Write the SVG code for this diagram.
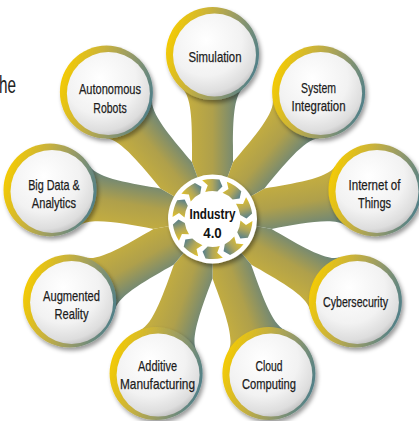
<svg xmlns="http://www.w3.org/2000/svg" width="419" height="421" viewBox="0 0 419 421">
<defs>
<style>
.lbl{font-family:"Liberation Sans Narrow","Liberation Sans",Arial,sans-serif;font-size:15px;fill:#1c1c1c;stroke:#1c1c1c;stroke-width:0.25;text-anchor:middle}
.ctr{font-family:"Liberation Sans Narrow","Liberation Sans",Arial,sans-serif;font-size:15px;font-weight:bold;fill:#111;text-anchor:middle}
.ring{fill:url(#ringG);filter:url(#sh)}
.disc{fill:url(#discG)}
.gap{fill:#fff}
.arr{fill:url(#arrG)}
</style>
<linearGradient id="ringG" x1="0" y1="0.35" x2="1" y2="0.65">
<stop offset="0" stop-color="#f6cc00"/>
<stop offset="0.35" stop-color="#c9b23c"/>
<stop offset="0.65" stop-color="#93996a"/>
<stop offset="1" stop-color="#4d7e8a"/>
</linearGradient>
<radialGradient id="discG" cx="0.4" cy="0.32" r="0.72">
<stop offset="0" stop-color="#ffffff"/>
<stop offset="0.6" stop-color="#f2f2f2"/>
<stop offset="0.88" stop-color="#dddddd"/>
<stop offset="1" stop-color="#bdbdbd"/>
</radialGradient>
<linearGradient id="stemL" gradientUnits="userSpaceOnUse" x1="-32" y1="0" x2="32" y2="0">
<stop offset="0" stop-color="#cbb23c"/>
<stop offset="0.5" stop-color="#afa04b"/>
<stop offset="1" stop-color="#5b7f84"/>
</linearGradient>
<linearGradient id="stemR" gradientUnits="userSpaceOnUse" x1="32" y1="0" x2="-32" y2="0">
<stop offset="0" stop-color="#cbb23c"/>
<stop offset="0.5" stop-color="#afa04b"/>
<stop offset="1" stop-color="#5b7f84"/>
</linearGradient>
<linearGradient id="arrG" gradientUnits="userSpaceOnUse" x1="-10" y1="0" x2="10" y2="0">
<stop offset="0" stop-color="#e2c22a"/>
<stop offset="0.5" stop-color="#b0a65a"/>
<stop offset="1" stop-color="#557f8c"/>
</linearGradient>
<filter id="sh" x="-25%" y="-25%" width="160%" height="160%">
<feDropShadow dx="2" dy="3" stdDeviation="2.2" flood-color="#000" flood-opacity="0.4"/>
</filter>
<path id="wedge" d="M0,0 L-51.3,-141 A150,150 0 0 1 51.3,-141 Z"/>
<path id="gapP" d="M0,-60 C9.6,-86.3 23.1,-119.8 16.1,-131.9 L35,-140 L35,-260 L-35,-260 L-35,-140 L-16.1,-131.9 C-23.1,-119.8 -9.6,-86.3 0,-60 Z"/>
<path id="arrow" d="M-10.35,-38.64 A40,40 0 0 1 6.95,-39.39 L9.94,-32.51 L4.86,-27.57 A28,28 0 0 0 -7.25,-27.05 L-4.73,-33.67 Z"/>
</defs>

<g id="connectors">
<g transform="translate(212.5,218.5)">
<use href="#wedge" fill="url(#stemL)" transform="rotate(0)"/>
<use href="#wedge" fill="url(#stemL)" transform="rotate(40)"/>
<use href="#wedge" fill="url(#stemL)" transform="rotate(80)"/>
<use href="#wedge" fill="url(#stemR)" transform="rotate(120)"/>
<use href="#wedge" fill="url(#stemR)" transform="rotate(160)"/>
<use href="#wedge" fill="url(#stemR)" transform="rotate(200)"/>
<use href="#wedge" fill="url(#stemR)" transform="rotate(240)"/>
<use href="#wedge" fill="url(#stemL)" transform="rotate(280)"/>
<use href="#wedge" fill="url(#stemL)" transform="rotate(320)"/>
<use href="#gapP" class="gap" transform="rotate(20)"/>
<use href="#gapP" class="gap" transform="rotate(60)"/>
<use href="#gapP" class="gap" transform="rotate(100)"/>
<use href="#gapP" class="gap" transform="rotate(140)"/>
<use href="#gapP" class="gap" transform="rotate(180)"/>
<use href="#gapP" class="gap" transform="rotate(220)"/>
<use href="#gapP" class="gap" transform="rotate(260)"/>
<use href="#gapP" class="gap" transform="rotate(300)"/>
<use href="#gapP" class="gap" transform="rotate(340)"/>
</g>
</g>

<g id="center">
<circle cx="212.5" cy="219" r="44.5" fill="#fff" filter="url(#sh)"/>
<g transform="translate(212.5,219)">
<use href="#arrow" class="arr" transform="rotate(0)"/>
<use href="#arrow" class="arr" transform="rotate(36)"/>
<use href="#arrow" class="arr" transform="rotate(72)"/>
<use href="#arrow" class="arr" transform="rotate(108)"/>
<use href="#arrow" class="arr" transform="rotate(144)"/>
<use href="#arrow" class="arr" transform="rotate(180)"/>
<use href="#arrow" class="arr" transform="rotate(216)"/>
<use href="#arrow" class="arr" transform="rotate(252)"/>
<use href="#arrow" class="arr" transform="rotate(288)"/>
<use href="#arrow" class="arr" transform="rotate(324)"/>
</g>
<text class="ctr" x="212.5" y="219" textLength="46" lengthAdjust="spacingAndGlyphs">Industry</text>
<text class="ctr" x="212.5" y="237.5" textLength="18.5" lengthAdjust="spacingAndGlyphs">4.0</text>
</g>

<g id="node-simulation">
<circle class="ring" cx="212.5" cy="53.5" r="46.5"/>
<circle class="disc" cx="214.5" cy="55" r="41.5"/>
<text class="lbl" x="215" y="62" textLength="53" lengthAdjust="spacingAndGlyphs">Simulation</text>
</g>
<g id="node-system-integration">
<circle class="ring" cx="318.6" cy="92.1" r="46.5"/>
<circle class="disc" cx="320.6" cy="93.6" r="41.5"/>
<text class="lbl" x="318.5" y="92.5" textLength="35" lengthAdjust="spacingAndGlyphs">System</text>
<text class="lbl" x="318.5" y="110.5" textLength="54" lengthAdjust="spacingAndGlyphs">Integration</text>
</g>
<g id="node-iot">
<circle class="ring" cx="375" cy="189.9" r="46.5"/>
<circle class="disc" cx="377" cy="191.4" r="41.5"/>
<text class="lbl" x="374.5" y="190" textLength="52" lengthAdjust="spacingAndGlyphs">Internet of</text>
<text class="lbl" x="374.5" y="208" textLength="33" lengthAdjust="spacingAndGlyphs">Things</text>
</g>
<g id="node-cybersecurity">
<circle class="ring" cx="355.4" cy="301" r="46.5"/>
<circle class="disc" cx="357.4" cy="302.5" r="41.5"/>
<text class="lbl" x="355.5" y="307" textLength="65" lengthAdjust="spacingAndGlyphs">Cybersecurity</text>
</g>
<g id="node-cloud">
<circle class="ring" cx="268.9" cy="373.6" r="46.5"/>
<circle class="disc" cx="270.9" cy="375.1" r="41.5"/>
<text class="lbl" x="269" y="370.5" textLength="27" lengthAdjust="spacingAndGlyphs">Cloud</text>
<text class="lbl" x="269" y="388.5" textLength="54" lengthAdjust="spacingAndGlyphs">Computing</text>
</g>
<g id="node-additive">
<circle class="ring" cx="156.1" cy="373.6" r="46.5"/>
<circle class="disc" cx="158.1" cy="375.1" r="41.5"/>
<text class="lbl" x="157.5" y="370.5" textLength="39" lengthAdjust="spacingAndGlyphs">Additive</text>
<text class="lbl" x="157.5" y="388.5" textLength="75" lengthAdjust="spacingAndGlyphs">Manufacturing</text>
</g>
<g id="node-augmented">
<circle class="ring" cx="69.6" cy="301" r="46.5"/>
<circle class="disc" cx="71.6" cy="302.5" r="41.5"/>
<text class="lbl" x="71.5" y="301" textLength="57" lengthAdjust="spacingAndGlyphs">Augmented</text>
<text class="lbl" x="71.5" y="319.3" textLength="34" lengthAdjust="spacingAndGlyphs">Reality</text>
</g>
<g id="node-bigdata">
<circle class="ring" cx="50" cy="189.9" r="46.5"/>
<circle class="disc" cx="52" cy="191.4" r="41.5"/>
<text class="lbl" x="54" y="190" textLength="51.7" lengthAdjust="spacingAndGlyphs">Big Data &amp;</text>
<text class="lbl" x="54" y="208.3" textLength="44.3" lengthAdjust="spacingAndGlyphs">Analytics</text>
</g>
<g id="node-autonomous">
<circle class="ring" cx="106.4" cy="92.1" r="46.5"/>
<circle class="disc" cx="108.4" cy="93.6" r="41.5"/>
<text class="lbl" x="110" y="93.8" textLength="62" lengthAdjust="spacingAndGlyphs">Autonomous</text>
<text class="lbl" x="110" y="112.5" textLength="33.3" lengthAdjust="spacingAndGlyphs">Robots</text>
</g>

<text x="-1" y="93.3" font-family="'Liberation Sans Narrow','Liberation Sans',Arial,sans-serif" font-size="23" fill="#222" textLength="17" lengthAdjust="spacingAndGlyphs">he</text>
</svg>
